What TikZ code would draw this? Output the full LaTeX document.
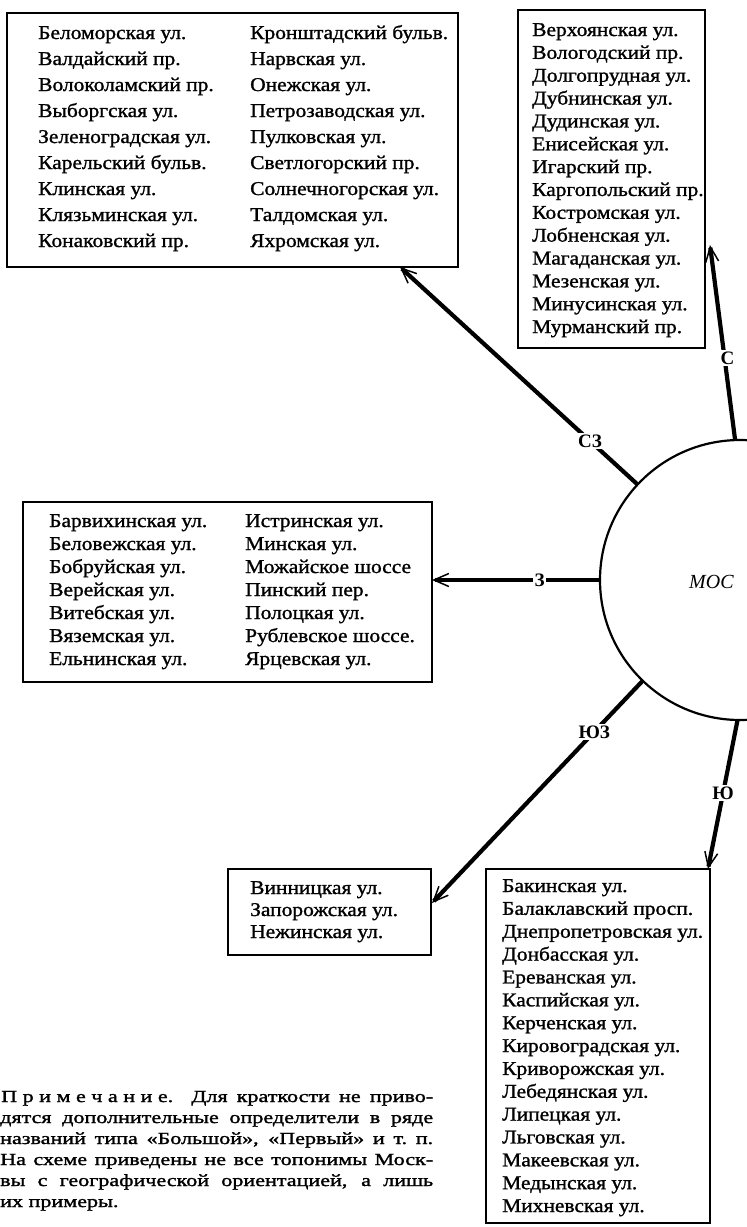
\documentclass[tikz,border=0pt]{standalone}
\usepackage{fontspec}
\setmainfont{Liberation Serif}
\newfontfamily\boxfont[FakeStretch=1.1,FakeBold=1.2]{Liberation Serif}
\newfontfamily\notefont[FakeStretch=1.3,FakeBold=1.5]{Liberation Serif}
\usetikzlibrary{arrows.meta}
\begin{document}
\begin{tikzpicture}[x=1pt,y=-1pt,
  box/.style={draw, line width=1.9pt, inner sep=0pt, outer sep=0pt},
  item/.style={anchor=base west, inner sep=0pt, font=\boxfont\fontsize{19.5}{23}\selectfont},
  arr/.style={line width=4.2pt, -{Straight Barb[length=15pt,width=13pt,line width=1.5pt]}},
  lbl/.style={fill=white, inner sep=1.5pt, font=\bfseries\fontsize{19}{19}\selectfont},
  noteline/.style={anchor=base west, inner sep=0pt, font=\notefont\fontsize{17}{21}\selectfont}]
\useasboundingbox (0,0) rectangle (747,1227);
\clip (0,0) rectangle (747,1227);

% boxes
\node[box, minimum width=451pt, minimum height=254pt] (nw) at (232.5,140) {};
\node[box, minimum width=187pt, minimum height=338pt] (n) at (611.5,179) {};
\node[box, minimum width=409pt, minimum height=180pt] (w) at (227.5,592) {};
\node[box, minimum width=203pt, minimum height=86pt] (sw) at (329.5,912) {};
\node[box, minimum width=224pt, minimum height=354pt] (s) at (598,1046) {};

% north-west box
\foreach \t [count=\i from 0] in {Беломорская ул.,Валдайский пр.,Волоколамский пр.,Выборгская ул.,Зеленоградская ул.,Карельский бульв.,Клинская ул.,Клязьминская ул.,Конаковский пр.}
  \node[item] (nwa\i) at (38,{39+26*\i}) {\t};
\foreach \t [count=\i from 0] in {Кронштадский бульв.,Нарвская ул.,Онежская ул.,Петрозаводская ул.,Пулковская ул.,Светлогорский пр.,Солнечногорская ул.,Талдомская ул.,Яхромская ул.}
  \node[item] (nwb\i) at (250,{39+26*\i}) {\t};

% north box
\foreach \t [count=\i from 0] in {Верхоянская ул.,Вологодский пр.,Долгопрудная ул.,Дубнинская ул.,Дудинская ул.,Енисейская ул.,Игарский пр.,Каргопольский пр.,Костромская ул.,Лобненская ул.,Магаданская ул.,Мезенская ул.,Минусинская ул.,Мурманский пр.}
  \node[item] (na\i) at (532,{36+22.85*\i}) {\t};

% west box
\foreach \t [count=\i from 0] in {Барвихинская ул.,Беловежская ул.,Бобруйская ул.,Верейская ул.,Витебская ул.,Вяземская ул.,Ельнинская ул.}
  \node[item] (wa\i) at (49,{527+23*\i}) {\t};
\foreach \t [count=\i from 0] in {Истринская ул.,Минская ул.,Можайское шоссе,Пинский пер.,Полоцкая ул.,Рублевское шоссе.,Ярцевская ул.}
  \node[item] (wb\i) at (245,{527+23*\i}) {\t};

% south-west box
\foreach \t [count=\i from 0] in {Винницкая ул.,Запорожская ул.,Нежинская ул.}
  \node[item] (swa\i) at (250,{894+22*\i}) {\t};

% south box
\foreach \t [count=\i from 0] in {Бакинская ул.,Балаклавский просп.,Днепропетровская ул.,Донбасская ул.,Ереванская ул.,Каспийская ул.,Керченская ул.,Кировоградская ул.,Криворожская ул.,Лебедянская ул.,Липецкая ул.,Льговская ул.,Макеевская ул.,Медынская ул.,Михневская ул.}
  \node[item] (sa\i) at (502,{892+22.86*\i}) {\t};

% Moscow circle
\node[draw, circle, line width=2.2pt, minimum size=280pt, inner sep=0pt, outer sep=0pt] (msk) at (740,580) {};
\node[anchor=base west, inner sep=0pt, font=\itshape\fontsize{20}{22}\selectfont] (mos) at (689,588) {МОС};

% connectors
\coordinate (nend) at (710,245);
\coordinate (nwend) at (400,267);
\coordinate (swend) at (432,903);
\coordinate (send) at (708,869);
\draw[arr] (msk.92) -- node[lbl,pos=0.42,xshift=3pt] (lc) {С} (nend);
\draw[arr] (msk.137) -- node[lbl,pos=0.2] (lnw) {СЗ} (nwend);
\draw[arr] (msk.180) -- node[lbl,pos=0.36] (lw) {З} (msk.180 -| w.east);
\draw[arr] (msk.226) -- node[lbl,pos=0.23] (lsw) {ЮЗ} (swend);
\draw[arr] (msk.269) -- node[lbl,pos=0.49] (ls) {Ю} (send);

% note
\node[noteline] (n1) at (1,1102) {\makebox[432pt][s]{П\kern5.5ptр\kern5.5ptи\kern5.5ptм\kern5.5ptе\kern5.5ptч\kern5.5ptа\kern5.5ptн\kern5.5ptи\kern5.5ptе. Для краткости не приво-}};
\node[noteline] (n2) at (0,1123) {\makebox[433pt][s]{дятся дополнительные определители в ряде}};
\node[noteline] (n3) at (0,1144) {\makebox[433pt][s]{названий типа «Большой», «Первый» и т.~п.}};
\node[noteline] (n4) at (0,1165) {\makebox[433pt][s]{На схеме приведены не все топонимы Моск-}};
\node[noteline] (n5) at (0,1186) {\makebox[433pt][s]{вы с географической ориентацией, а лишь}};
\node[noteline] (n6) at (0,1207) {их примеры.};
\end{tikzpicture}
\end{document}
